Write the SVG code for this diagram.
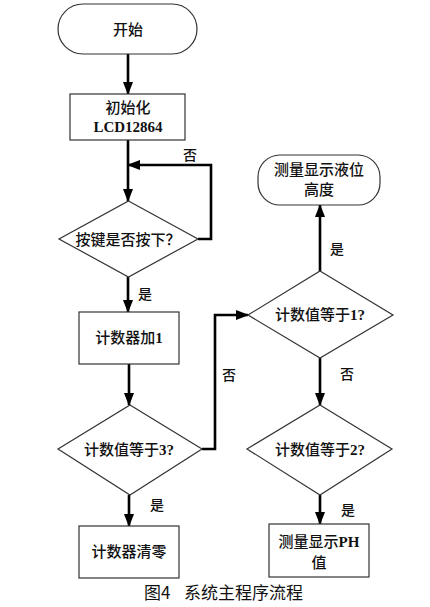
<svg xmlns="http://www.w3.org/2000/svg" width="430" height="607" viewBox="0 0 430 607">
<style>
.n{fill:#fff;stroke:#333;stroke-width:1.2}
.t{font-family:"Liberation Serif","Noto Sans CJK SC",serif;font-size:15px;font-weight:500;fill:#111;text-anchor:middle;dominant-baseline:central}
.l{font-family:"Liberation Serif","Noto Sans CJK SC",serif;font-size:14px;font-weight:500;fill:#111;text-anchor:middle;dominant-baseline:central}
.b{font-weight:bold}
.c{fill:none;stroke:#000;stroke-width:2.6}
.cap{font-family:"Noto Sans CJK SC","Liberation Sans",sans-serif;font-size:17px;fill:#111;dominant-baseline:central}
</style>
<defs>
<marker id="a" markerUnits="userSpaceOnUse" markerWidth="13" markerHeight="11" refX="12" refY="5" orient="auto">
<path d="M0,0 L13,5 L0,10 z" fill="#000"/>
</marker>
</defs>
<rect width="430" height="607" fill="#fff"/>
<g id="connectors">
<path class="c" d="M128,54 V94" marker-end="url(#a)"/>
<path class="c" d="M128,140 V201" marker-end="url(#a)"/>
<path class="c" d="M198,239 H211 V165 H128" marker-end="url(#a)"/>
<path class="c" d="M128,277 V312" marker-end="url(#a)"/>
<path class="c" d="M129,364 V405" marker-end="url(#a)"/>
<path class="c" d="M129,495 V526" marker-end="url(#a)"/>
<path class="c" d="M202,449 H215 V315 H248" marker-end="url(#a)"/>
<path class="c" d="M320,271 V205" marker-end="url(#a)"/>
<path class="c" d="M320,358 V405" marker-end="url(#a)"/>
<path class="c" d="M320,495 V524" marker-end="url(#a)"/>
<text class="l" x="190" y="155">否</text>
<text class="l" x="145" y="294">是</text>
<text class="l" x="229" y="375">否</text>
<text class="l" x="337" y="249">是</text>
<text class="l" x="347" y="374">否</text>
<text class="l" x="157" y="505">是</text>
<text class="l" x="348" y="510">是</text>
</g>
<g id="start">
<rect class="n" x="58" y="4" width="139" height="50" rx="25"/>
<text class="t" x="128" y="30">开始</text>
</g>
<g id="init">
<rect class="n" x="70" y="94" width="115" height="46"/>
<text class="t" x="128" y="108">初始化</text>
<text class="t b" x="128" y="127">LCD12864</text>
</g>
<g id="key">
<path class="n" d="M128.5,201 L198,239 L128.5,277 L59,239 z"/>
<text class="t" x="128" y="240">按键是否按下？</text>
</g>
<g id="inc">
<rect class="n" x="79" y="312" width="100" height="52"/>
<text class="t" x="129" y="338">计数器加<tspan class="b">1</tspan></text>
</g>
<g id="eq3">
<path class="n" d="M130,405 L202,449 L130,495 L58,449 z"/>
<text class="t" x="129" y="450">计数值等于<tspan class="b">3?</tspan></text>
</g>
<g id="clear">
<rect class="n" x="79" y="526" width="100" height="52"/>
<text class="t" x="129" y="552">计数器清零</text>
</g>
<g id="eq1">
<path class="n" d="M320,271 L393,315 L320,358 L248,315 z"/>
<text class="t" x="320" y="315">计数值等于<tspan class="b">1?</tspan></text>
</g>
<g id="level">
<rect class="n" x="258" y="155" width="122" height="50" rx="22"/>
<text class="t" x="319" y="170">测量显示液位</text>
<text class="t" x="319" y="190">高度</text>
</g>
<g id="eq2">
<path class="n" d="M320,405 L392,449 L320,495 L247,449 z"/>
<text class="t" x="320" y="450">计数值等于<tspan class="b">2?</tspan></text>
</g>
<g id="ph">
<rect class="n" x="269" y="524" width="100" height="53"/>
<text class="t" x="319" y="542">测量显示<tspan class="b">PH</tspan></text>
<text class="t" x="319" y="563">值</text>
</g>
<text class="cap" x="144" y="591">图4</text>
<text class="cap" x="184" y="591">系统主程序流程</text>
</svg>
